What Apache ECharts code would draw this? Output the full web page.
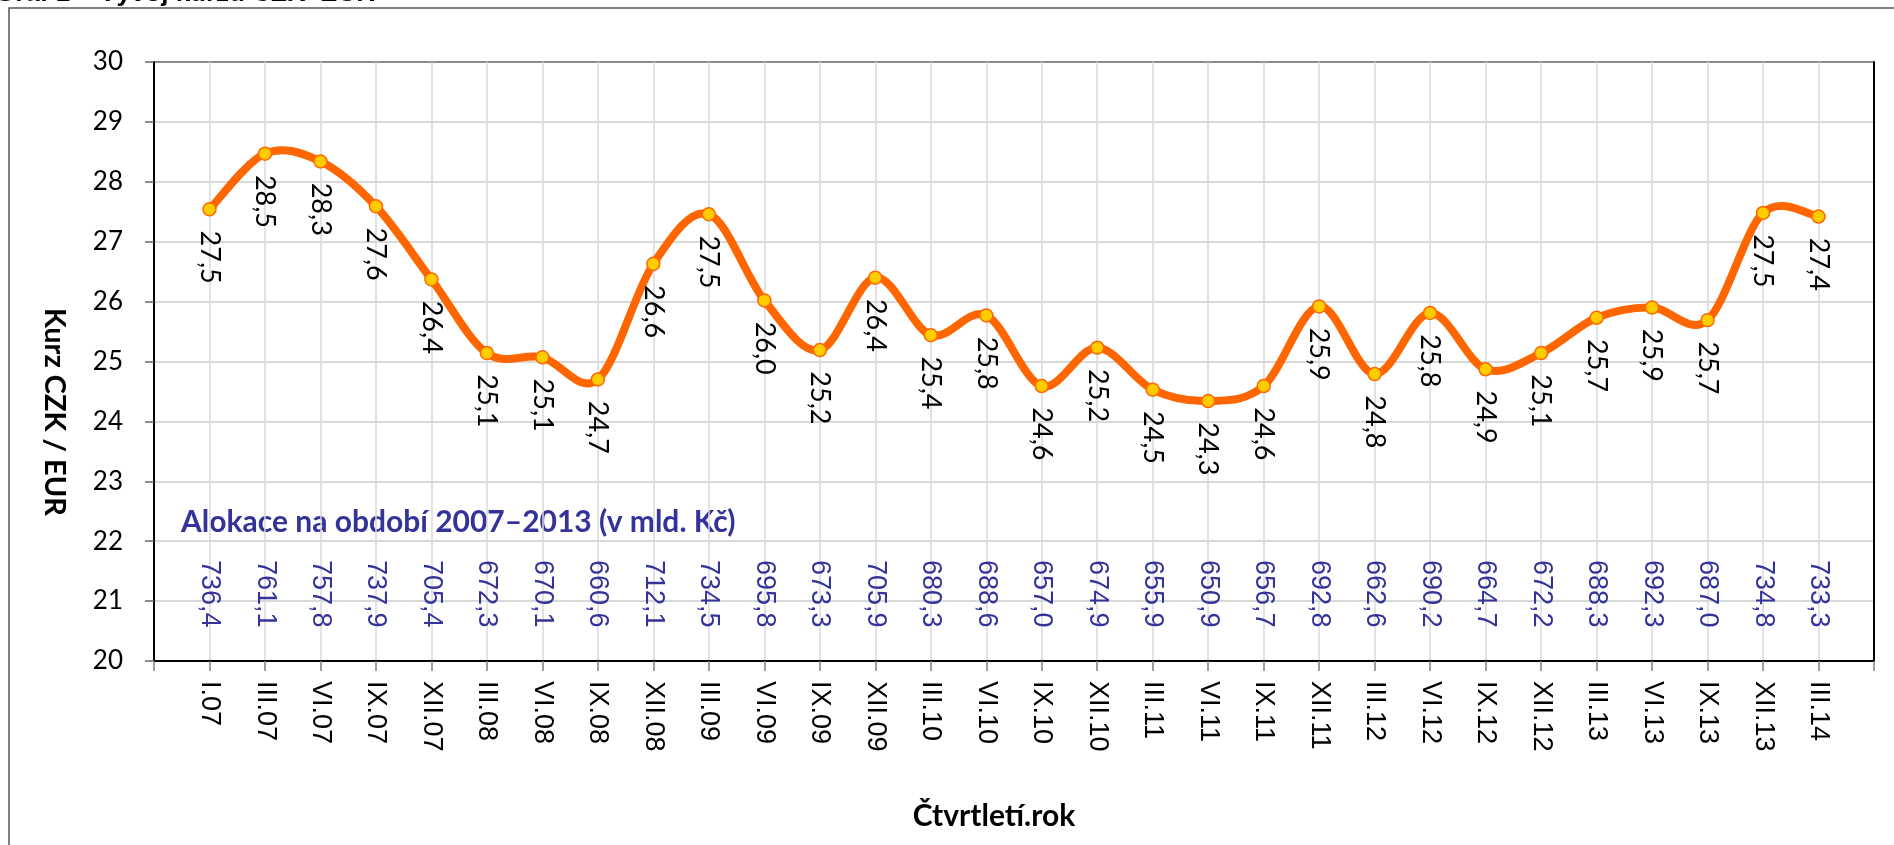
<!DOCTYPE html>
<html>
<head>
<meta charset="utf-8">
<title>Vývoj kurzu CZK-EUR</title>
<script src="https://cdn.jsdelivr.net/npm/echarts@6/dist/echarts.min.js"></script>
<style>
  html, body { margin: 0; padding: 0; background: #fff; }
  #chart { width: 1894px; height: 845px; }
</style>
</head>
<body>
<div id="chart"></div>
<script>
  // ctvrtleti.rok
  var quarters = ['I.07', 'III.07', 'VI.07', 'IX.07', 'XII.07', 'III.08', 'VI.08', 'IX.08', 'XII.08',
    'III.09', 'VI.09', 'IX.09', 'XII.09', 'III.10', 'VI.10', 'IX.10', 'XII.10', 'III.11', 'VI.11',
    'IX.11', 'XII.11', 'III.12', 'VI.12', 'IX.12', 'XII.12', 'III.13', 'VI.13', 'IX.13', 'XII.13', 'III.14']
  // kurz CZK / EUR
  var rate = [27.54, 28.47, 28.34, 27.59, 26.37, 25.14, 25.07, 24.7, 26.63,
    27.46, 26.02, 25.19, 26.4, 25.44, 25.77, 24.59, 25.23, 24.53, 24.34,
    24.59, 25.92, 24.79, 25.81, 24.87, 25.14, 25.73, 25.9, 25.69, 27.48, 27.42]
  // alokace 2007-2013 v mld. Kc
  var allocation = [736.4, 761.1, 757.8, 737.9, 705.4, 672.3, 670.1, 660.6, 712.1,
    734.5, 695.8, 673.3, 705.9, 680.3, 688.6, 657.0, 674.9, 655.9, 650.9,
    656.7, 692.8, 662.6, 690.2, 664.7, 672.2, 688.3, 692.3, 687.0, 734.8, 733.3]
  var yTicks = [20, 30, 1]  // min, max, krok

  function cz(v) {
    return v.toFixed(1).replace('.', ',')
  }

  // prazdna kategorie na kazdem konci, at body nelezi na okraji
  var cats = [''].concat(quarters).concat([''])
  var allocCats = [''].concat(allocation.map(cz)).concat([''])
  var rateData = [null].concat(rate).concat([null])

  // vyhlazena cara jako v Excelu (Catmull-Rom -> bezier), jeden usek na bod
  function renderSmooth(params, api) {
    var i = params.dataIndex
    var n = rate.length
    if (i >= n - 1) return null
    function pt(k) {
      k = Math.max(0, Math.min(n - 1, k))
      return api.coord([k + 1, rate[k]])
    }
    var p0 = pt(i - 1), p1 = pt(i), p2 = pt(i + 1), p3 = pt(i + 2)
    return {
      type: 'bezierCurve',
      shape: {
        x1: p1[0], y1: p1[1],
        x2: p2[0], y2: p2[1],
        cpx1: p1[0] + (p2[0] - p0[0]) / 6, cpy1: p1[1] + (p2[1] - p0[1]) / 6,
        cpx2: p2[0] - (p3[0] - p1[0]) / 6, cpy2: p2[1] - (p3[1] - p1[1]) / 6
      },
      style: { fill: null, stroke: '#ff6600', lineWidth: 8, lineCap: 'round' },
      silent: true
    }
  }

  var chart = echarts.init(document.getElementById('chart'))
  chart.setOption({
    backgroundColor: '#fff',
    animation: false,
    grid: { left: 154, top: 62, right: 20, bottom: 184 },
    xAxis: [
      {
        type: 'category',
        data: cats,
        boundaryGap: false,
        axisLine: { lineStyle: { color: '#000', width: 2 } },
        axisTick: { interval: 0, length: 10, lineStyle: { color: '#808080', width: 1.5 } },
        axisLabel: {
          interval: 0, rotate: -90, margin: 20,
          color: '#000', fontSize: 27, fontFamily: 'Liberation Sans'
        },
        splitLine: { show: true, interval: 0, lineStyle: { color: '#d9d9d9', width: 1.5 } }
      },
      {
        type: 'category',
        data: allocCats,
        boundaryGap: false,
        position: 'bottom',
        offset: -101,
        axisLine: { show: false },
        axisTick: { show: false },
        axisLabel: {
          interval: 0, rotate: -90, margin: 0,
          color: '#333399', fontSize: 27, fontFamily: 'Liberation Sans'
        },
        splitLine: { show: false }
      }
    ],
    yAxis: [
      {
        type: 'value',
        min: yTicks[0],
        max: yTicks[1],
        interval: yTicks[2],
        axisLine: { show: true, lineStyle: { color: '#000', width: 2 } },
        axisTick: { show: true, length: 9, lineStyle: { color: '#666', width: 1.5 } },
        axisLabel: { margin: 31, color: '#000', fontSize: 26, fontFamily: 'Lato' },
        splitLine: {
          lineStyle: {
            width: 2,
            color: ['#d9d9d9', '#d9d9d9', '#d9d9d9', '#d9d9d9', '#d9d9d9', '#d9d9d9',
              '#d9d9d9', '#d9d9d9', '#d9d9d9', '#d9d9d9', '#8c8c8c']
          }
        }
      },
      {
        type: 'value',
        position: 'right',
        min: yTicks[0],
        max: yTicks[1],
        interval: yTicks[2],
        axisLine: { show: true, lineStyle: { color: '#000', width: 2 } },
        axisTick: { show: false },
        axisLabel: { show: false },
        splitLine: { show: false }
      }
    ],
    series: [
      {
        type: 'custom',
        renderItem: renderSmooth,
        data: rate,
        z: 2
      },
      {
        name: 'Kurz CZK / EUR',
        type: 'line',
        data: rateData,
        z: 3,
        lineStyle: { width: 0 },
        symbol: 'circle',
        symbolSize: 13,
        itemStyle: { color: '#ffcc00', borderColor: '#ff6600', borderWidth: 1.5 },
        label: {
          show: true,
          position: 'bottom',
          distance: 14,
          rotate: -90,
          align: 'left',
          verticalAlign: 'middle',
          color: '#000',
          fontSize: 27,
          fontFamily: 'Lato',
          formatter: function (p) { return cz(p.value) }
        }
      }
    ],
    graphic: [
      {
        type: 'rect',
        silent: true,
        shape: { x: 9, y: 8, width: 2000, height: 1000 },
        style: { fill: 'none', stroke: '#555', lineWidth: 1.5 }
      },
      {
        type: 'text',
        x: 375, y: 7,
        style: {
          text: 'Graf 1 – Vývoj kurzu CZK–EUR',
          align: 'right', verticalAlign: 'bottom',
          fontSize: 26, fontWeight: 'bold', fontFamily: 'Liberation Sans', fill: '#000'
        }
      },
      {
        type: 'text',
        x: 54, y: 412,
        rotation: -Math.PI / 2,
        style: {
          text: 'Kurz CZK / EUR',
          align: 'center', verticalAlign: 'middle',
          fontSize: 29, fontWeight: 'bold', fontFamily: 'Lato', fill: '#000'
        }
      },
      {
        type: 'text',
        x: 994, y: 816,
        style: {
          text: 'Čtvrtletí.rok',
          align: 'center', verticalAlign: 'middle',
          fontSize: 30, fontWeight: 'bold', fontFamily: 'Lato', fill: '#000'
        }
      },
      {
        type: 'text',
        x: 181, y: 522,
        style: {
          text: 'Alokace na období 2007–2013 (v mld. Kč)',
          align: 'left', verticalAlign: 'middle',
          fontSize: 30, fontWeight: 'bold', fontFamily: 'Lato', fill: '#333399'
        }
      }
    ]
  })
</script>
</body>
</html>
